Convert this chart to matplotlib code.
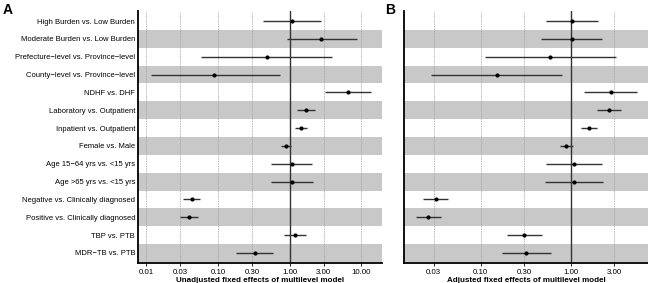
import matplotlib
matplotlib.use("Agg")
import matplotlib.pyplot as plt
import numpy as np

plt.rcParams['font.family'] = ['Liberation Sans', 'DejaVu Sans']

labels = ["High Burden vs. Low Burden", "Moderate Burden vs. Low Burden",
          "Prefecture\u2212level vs. Province\u2212level", "County\u2212level vs. Province\u2212level",
          "NDHF vs. DHF", "Laboratory vs. Outpatient", "Inpatient vs. Outpatient",
          "Female vs. Male", "Age 15\u221264 yrs vs. <15 yrs", "Age >65 yrs vs. <15 yrs",
          "Negative vs. Clinically diagnosed", "Positive vs. Clinically diagnosed",
          "TBP vs. PTB", "MDR\u2212TB vs. PTB"]

unadj_est = [1.09, 2.79, 0.48, 0.089, 6.44, 1.71, 1.46, 0.90, 1.07, 1.08, 0.043, 0.040, 1.20, 0.325]
unadj_lo  = [0.43, 0.91, 0.059, 0.0115, 3.08, 1.28, 1.21, 0.76, 0.56, 0.55, 0.0325, 0.030, 0.85, 0.18]
unadj_hi  = [2.71, 8.8, 3.94, 0.73, 13.8, 2.25, 1.77, 1.06, 2.07, 2.14, 0.057, 0.053, 1.71, 0.585]

adj_est = [1.02, 1.02, 0.59, 0.150, 2.75, 2.64, 1.58, 0.89, 1.09, 1.07, 0.032, 0.0263, 0.30, 0.32]
adj_lo  = [0.53, 0.47, 0.112, 0.028, 1.40, 1.96, 1.28, 0.75, 0.53, 0.515, 0.0231, 0.019, 0.194, 0.172]
adj_hi  = [1.97, 2.22, 3.15, 0.80, 5.42, 3.61, 1.96, 1.06, 2.22, 2.26, 0.0438, 0.0366, 0.473, 0.60]

ticks_a = [0.01, 0.03, 0.10, 0.30, 1.00, 3.00, 10.00]
ticks_b = [0.03, 0.10, 0.30, 1.00, 3.00]
tick_labels_a = ["0.01", "0.03", "0.10", "0.30", "1.00", "3.00", "10.00"]
tick_labels_b = ["0.03", "0.10", "0.30", "1.00", "3.00"]

fig = plt.figure(figsize=(6.48, 2.83), dpi=100)
bottom, top = 0.0707, 0.961
axA = fig.add_axes([0.213, bottom, 0.5895 - 0.213, top - bottom])
axB = fig.add_axes([0.6235, bottom, 1.0 - 0.6235, top - bottom])

n = len(labels)
ypos = np.arange(n, 0, -1)

def draw(ax, est, lo, hi, ticks, tlabels, xlim, xlabel, show_labels):
    ax.set_xscale('log')
    ax.set_xlim(*xlim)
    ax.set_ylim(0.44, n + 0.56)
    for i, y in enumerate(ypos):
        if i % 2 == 1:
            ax.axhspan(y - 0.5, y + 0.5, color='#c8c8c8', lw=0, zorder=0)
    for t in ticks:
        if t != 1.0:
            ax.axvline(t, color='#a0a0a0', lw=0.6, ls=(0, (1, 1)), zorder=1)
    ax.axvline(1.0, color='#333333', lw=1.0, zorder=2)
    ax.hlines(ypos, lo, hi, color='#333333', lw=1.0, zorder=3)
    ax.plot(est, ypos, 'o', color='black', ms=2.0, zorder=4)
    ax.set_xticks(ticks)
    ax.set_xticklabels(tlabels, fontsize=5.7)
    ax.xaxis.set_minor_locator(matplotlib.ticker.NullLocator())
    ax.set_yticks(ypos)
    if show_labels:
        ax.set_yticklabels(labels, fontsize=5.5)
    else:
        ax.set_yticklabels([])
    ax.tick_params(axis='y', length=0, pad=2)
    ax.tick_params(axis='x', length=2, width=0.6, pad=2)
    ax.set_xlabel(xlabel, fontsize=5.8, fontweight='bold', labelpad=1)
    ax.spines['top'].set_visible(False)
    ax.spines['right'].set_visible(False)
    ax.spines['left'].set_linewidth(1.3)
    ax.spines['bottom'].set_linewidth(1.3)

draw(axA, unadj_est, unadj_lo, unadj_hi, ticks_a, tick_labels_a, (0.0077, 19.5),
     "Unadjusted fixed effects of multilevel model", True)
draw(axB, adj_est, adj_lo, adj_hi, ticks_b, tick_labels_b, (0.0141, 7.13),
     "Adjusted fixed effects of multilevel model", False)

fig.text(0.004, 0.99, "A", fontsize=10, fontweight='bold', va='top', ha='left')
fig.text(0.594, 0.99, "B", fontsize=10, fontweight='bold', va='top', ha='left')

fig.savefig("out.png", dpi=100)
